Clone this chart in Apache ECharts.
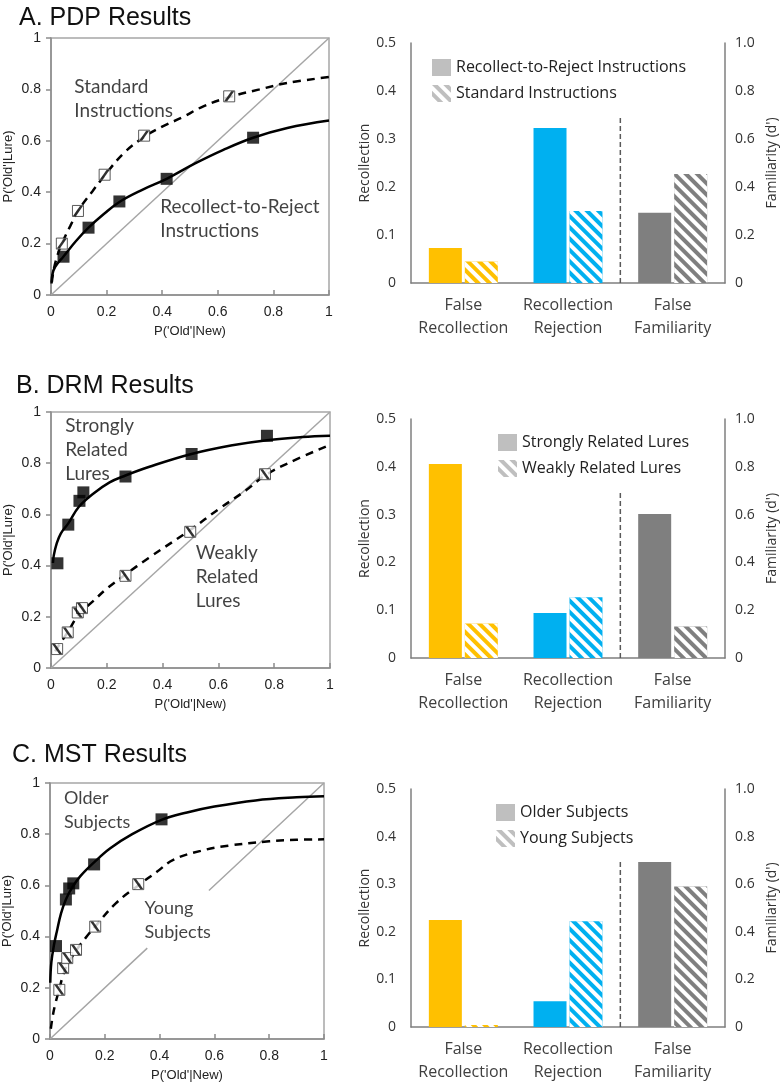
<!DOCTYPE html>
<html>
<head>
<meta charset="utf-8">
<script src="https://cdn.jsdelivr.net/npm/echarts@6/dist/echarts.min.js"></script>
<style>
  html, body { margin: 0; background: #fff; }
  #chart { width: 780px; height: 1086px; }
</style>
</head>
<body>
<div id="chart"></div>
<script>
// ---- ROC data: [P('Old'|New), P('Old'|Lure)] ----
const pdpRejectPts = [[0.045, 0.149], [0.135, 0.262], [0.246, 0.364], [0.416, 0.452], [0.727, 0.612]];
const pdpRejectFit = [[0.002, 0.045], [0.005, 0.08], [0.015, 0.11], [0.045, 0.15], [0.09, 0.21], [0.135, 0.262],
  [0.19, 0.315], [0.246, 0.362], [0.33, 0.41], [0.416, 0.452], [0.52, 0.513], [0.62, 0.565], [0.727, 0.612],
  [0.85, 0.65], [1, 0.679]];
const pdpStandardPts = [[0.039, 0.2], [0.097, 0.327], [0.193, 0.468], [0.335, 0.62], [0.641, 0.773]];
const pdpStandardFit = [[0.003, 0.05], [0.01, 0.1], [0.025, 0.16], [0.039, 0.2], [0.07, 0.27], [0.097, 0.327],
  [0.15, 0.405], [0.193, 0.465], [0.26, 0.55], [0.335, 0.615], [0.4, 0.655], [0.47, 0.69], [0.55, 0.735],
  [0.641, 0.77], [0.75, 0.8], [0.85, 0.825], [1, 0.848]];

const drmStrongPts = [[0.023, 0.409], [0.062, 0.56], [0.102, 0.653], [0.116, 0.686], [0.267, 0.748], [0.504, 0.836], [0.774, 0.907]];
const drmStrongFit = [[0.007, 0.41], [0.01, 0.44], [0.02, 0.485], [0.035, 0.525], [0.062, 0.565], [0.1, 0.63],
  [0.15, 0.68], [0.21, 0.725], [0.267, 0.752], [0.35, 0.785], [0.5, 0.835], [0.65, 0.87], [0.774, 0.89],
  [0.9, 0.902], [1, 0.907]];
const drmWeakPts = [[0.022, 0.074], [0.06, 0.139], [0.096, 0.217], [0.111, 0.234], [0.267, 0.36], [0.499, 0.532], [0.767, 0.757]];
const drmWeakFit = [[0.015, 0.065], [0.022, 0.078], [0.06, 0.14], [0.1, 0.21], [0.15, 0.26], [0.2, 0.31],
  [0.267, 0.365], [0.35, 0.43], [0.5, 0.54], [0.6, 0.62], [0.7, 0.695], [0.767, 0.752], [0.85, 0.8], [1, 0.872]];

const mstOlderPts = [[0.022, 0.363], [0.058, 0.545], [0.07, 0.588], [0.085, 0.608], [0.161, 0.682], [0.407, 0.858]];
const mstOlderFit = [[0.001, 0.22], [0.005, 0.3], [0.015, 0.37], [0.025, 0.42], [0.04, 0.49], [0.058, 0.545],
  [0.08, 0.59], [0.11, 0.635], [0.161, 0.69], [0.22, 0.745], [0.3, 0.8], [0.407, 0.856], [0.5, 0.885],
  [0.6, 0.908], [0.75, 0.932], [0.9, 0.944], [1, 0.948]];
const mstYoungPts = [[0.034, 0.192], [0.048, 0.277], [0.063, 0.316], [0.095, 0.348], [0.165, 0.439], [0.322, 0.605]];
const mstYoungFit = [[0.003, 0.04], [0.01, 0.09], [0.02, 0.14], [0.034, 0.195], [0.048, 0.25], [0.063, 0.29],
  [0.095, 0.345], [0.13, 0.395], [0.165, 0.44], [0.24, 0.53], [0.322, 0.6], [0.39, 0.653], [0.45, 0.7],
  [0.55, 0.735], [0.65, 0.755], [0.8, 0.772], [0.9, 0.778], [1, 0.78]];

const diagonalFull = [[0, 0], [1, 1]];
const diagonalBroken = [[0, 0], [0.355, 0.355], '-', [0.58, 0.58], [1, 1]];

// ---- bar data ----
const barCategories = ['False\nRecollection', 'Recollection\nRejection', 'False\nFamiliarity'];
const barColors = ['#FFC000', '#00B0F0', '#7F7F7F'];
// recollection (left axis) for the first two categories, familiarity d' (right axis) for the third
const pdpRecollectReject = [0.073, 0.323];
const pdpRecollectStandard = [0.045, 0.15];
const pdpFamiliarity = [0.293, 0.454];
const drmRecollectStrong = [0.406, 0.094];
const drmRecollectWeak = [0.072, 0.127];
const drmFamiliarity = [0.602, 0.132];
const mstRecollectOlder = [0.225, 0.054];
const mstRecollectYoung = [0.004, 0.222];
const mstFamiliarity = [0.693, 0.59];
const dividerLine = [[2, 0], [2, 0.35]];

const titles = ['A. PDP Results', 'B. DRM Results', 'C. MST Results'];
const rocLabels = [
  [['Standard\nInstructions', 0.084, 0.762], ['Recollect-to-Reject\nInstructions', 0.393, 0.298]],
  [['Strongly\nRelated\nLures', 0.051, 0.851], ['Weakly\nRelated\nLures', 0.519, 0.356]],
  [['Older\nSubjects', 0.051, 0.894], ['Young\nSubjects', 0.345, 0.463]]
];
const legendNames = [
  ['Recollect-to-Reject Instructions', 'Standard Instructions'],
  ['Strongly Related Lures', 'Weakly Related Lures'],
  ['Older Subjects', 'Young Subjects']
];

// ---- layout ----
const rocGrids = [
  { left: 51, top: 38, width: 278, height: 257 },
  { left: 51, top: 412, width: 279, height: 256 },
  { left: 49, top: 783, width: 275, height: 256 }
];
const barGrids = [
  { left: 411, top: 43, width: 315, height: 240 },
  { left: 411, top: 419, width: 315, height: 239 },
  { left: 411, top: 789, width: 314, height: 238 }
];
const titlePos = [[14, 1], [11, 369], [7, 738]];
const legendPos = [[427, 54], [493, 429], [491, 799]];

const panels = [
  { solidFit: pdpRejectFit, solidPts: pdpRejectPts, dashFit: pdpStandardFit, dashPts: pdpStandardPts,
    diag: diagonalFull, stripe: 'path://M0,10 L3,10 L10,0 L7,0 Z',
    rec1: pdpRecollectReject, rec2: pdpRecollectStandard, fam: pdpFamiliarity },
  { solidFit: drmStrongFit, solidPts: drmStrongPts, dashFit: drmWeakFit, dashPts: drmWeakPts,
    diag: diagonalFull, stripe: 'path://M0,0 L3,0 L10,10 L7,10 Z',
    rec1: drmRecollectStrong, rec2: drmRecollectWeak, fam: drmFamiliarity },
  { solidFit: mstOlderFit, solidPts: mstOlderPts, dashFit: mstYoungFit, dashPts: mstYoungPts,
    diag: diagonalBroken, stripe: 'path://M0,0 L3,0 L10,10 L7,10 Z',
    rec1: mstRecollectOlder, rec2: mstRecollectYoung, fam: mstFamiliarity }
];

const GRAY = '#8C8C8C';
const BAR_FONT = 'Open Sans';
const ROC_FONT = 'Liberation Sans';
const hatch = {
  symbol: 'rect', symbolSize: 1, dashArrayX: [1, 0], dashArrayY: [3.5, 3.5],
  rotation: Math.PI / 4, color: '#ffffff'
};

const grid = [], xAxis = [], yAxis = [], series = [], title = [], legend = [];

panels.forEach((p, i) => {
  // ROC panel
  const g = grid.length;
  grid.push({ ...rocGrids[i], show: true, borderColor: '#A6A6A6', borderWidth: 1.5, containLabel: false });
  const rx = xAxis.length;
  xAxis.push({
    type: 'value', gridIndex: g, min: 0, max: 1, interval: 0.2,
    name: "P('Old'|New)", nameLocation: 'middle', nameGap: 30,
    nameTextStyle: { fontFamily: ROC_FONT, fontSize: 13, color: '#222' },
    axisLine: { show: true, lineStyle: { color: GRAY, width: 1.5 } },
    axisTick: { show: true, inside: true, length: 5, lineStyle: { color: GRAY, width: 1.5 } },
    axisLabel: { fontFamily: ROC_FONT, fontSize: 14, color: '#222', margin: 10 },
    splitLine: { show: false }
  });
  const ry = yAxis.length;
  yAxis.push({
    type: 'value', gridIndex: g, min: 0, max: 1, interval: 0.2,
    name: "P('Old'|Lure)", nameLocation: 'middle', nameGap: 36, nameRotate: 90,
    nameTextStyle: { fontFamily: ROC_FONT, fontSize: 13, color: '#222' },
    axisLine: { show: true, lineStyle: { color: GRAY, width: 1.5 } },
    axisTick: { show: true, length: 5, lineStyle: { color: GRAY, width: 1.5 } },
    axisLabel: { fontFamily: ROC_FONT, fontSize: 14, color: '#222', margin: 10 },
    splitLine: { show: false }
  });
  const onRoc = { xAxisIndex: rx, yAxisIndex: ry, silent: true };
  series.push({ ...onRoc, type: 'line', data: p.diag, symbol: 'none', lineStyle: { color: '#A6A6A6', width: 1.5 }, z: 1 });
  series.push({ ...onRoc, type: 'line', data: p.solidFit, smooth: 0.4, symbol: 'none', lineStyle: { color: '#000', width: 2.5 }, z: 2 });
  series.push({ ...onRoc, type: 'line', data: p.dashFit, smooth: 0.4, symbol: 'none', lineStyle: { color: '#000', width: 2.5, type: [8, 6] }, z: 2 });
  series.push({ ...onRoc, type: 'scatter', data: p.solidPts, symbol: 'rect', symbolSize: 12, itemStyle: { color: '#000' }, z: 3 });
  series.push({ ...onRoc, type: 'scatter', data: p.dashPts, symbol: 'rect', symbolSize: 11, itemStyle: { color: '#fff', borderColor: '#333', borderWidth: 1 }, z: 4 });
  series.push({ ...onRoc, type: 'scatter', data: p.dashPts, symbol: p.stripe, symbolSize: 10, itemStyle: { color: '#000' }, z: 5 });
  series.push({
    ...onRoc, type: 'scatter', symbolSize: 0, z: 6,
    data: rocLabels[i].map(l => ({ value: [l[1], l[2]], label: { formatter: l[0] } })),
    label: {
      show: true, position: [0, 0], align: 'left', verticalAlign: 'middle',
      fontFamily: 'Lato', fontSize: i === 2 ? 18 : 19, lineHeight: 24, color: '#111'
    }
  });

  // bar panel
  const b = grid.length;
  grid.push({ ...barGrids[i], containLabel: false });
  const bx = xAxis.length;
  xAxis.push({
    type: 'category', gridIndex: b, data: barCategories,
    axisLine: { lineStyle: { color: '#7F7F7F', width: 1.5 } },
    axisTick: { show: false },
    axisLabel: { interval: 0, fontFamily: BAR_FONT, fontSize: 16, lineHeight: 23, color: '#404040', margin: 11 }
  });
  xAxis.push({ type: 'category', gridIndex: b, data: barCategories, show: false });
  xAxis.push({ type: 'value', gridIndex: b, min: 0, max: 3, show: false });
  const by = yAxis.length;
  yAxis.push({
    type: 'value', gridIndex: b, min: 0, max: 0.5, interval: 0.1,
    name: 'Recollection', nameLocation: 'middle', nameGap: 38, nameRotate: 90,
    nameTextStyle: { fontFamily: BAR_FONT, fontSize: 14, color: '#333' },
    axisLine: { show: true, lineStyle: { color: '#7F7F7F', width: 1.5 } },
    axisTick: { show: false }, splitLine: { show: false },
    axisLabel: { fontFamily: BAR_FONT, fontSize: 14, color: '#333', margin: 15 }
  });
  yAxis.push({
    type: 'value', gridIndex: b, min: 0, max: 1, interval: 0.2, position: 'right',
    name: "Familiarity (d')", nameLocation: 'middle', nameGap: 40, nameRotate: 90,
    nameTextStyle: { fontFamily: BAR_FONT, fontSize: 14, color: '#333' },
    axisLine: { show: true, lineStyle: { color: '#7F7F7F', width: 1.5 } },
    axisTick: { show: false }, splitLine: { show: false },
    axisLabel: { fontFamily: BAR_FONT, fontSize: 14, color: '#333', margin: 10, formatter: v => (v === 0 ? '0' : v.toFixed(1)) }
  });
  const names = legendNames[i];
  const recData = vals => [...vals.map((v, k) => ({ value: v, itemStyle: { color: barColors[k] } })), '-'];
  const famData = v => ['-', '-', { value: v, itemStyle: { color: barColors[2] } }];
  const barBase = { type: 'bar', barWidth: 33, barGap: '9%', silent: true };
  series.push({ ...barBase, name: names[0], xAxisIndex: bx, yAxisIndex: by, data: recData(p.rec1), itemStyle: { color: '#BFBFBF' } });
  series.push({ ...barBase, name: names[1], xAxisIndex: bx, yAxisIndex: by, data: recData(p.rec2), itemStyle: { color: '#BFBFBF', decal: hatch } });
  series.push({ ...barBase, name: names[0], xAxisIndex: bx + 1, yAxisIndex: by + 1, data: famData(p.fam[0]), itemStyle: { color: '#BFBFBF' } });
  series.push({ ...barBase, name: names[1], xAxisIndex: bx + 1, yAxisIndex: by + 1, data: famData(p.fam[1]), itemStyle: { color: '#BFBFBF', decal: hatch } });
  series.push({
    type: 'line', xAxisIndex: bx + 2, yAxisIndex: by, data: dividerLine, symbol: 'none', silent: true,
    lineStyle: { color: '#595959', width: 1.5, type: [5, 3] }
  });

  title.push({
    text: titles[i], left: titlePos[i][0], top: titlePos[i][1],
    textStyle: { fontFamily: ROC_FONT, fontSize: 25, fontWeight: 'normal', color: '#111' }
  });
  legend.push({
    data: names, left: legendPos[i][0], top: legendPos[i][1], orient: 'vertical',
    icon: 'rect', itemWidth: 19, itemHeight: 17, itemGap: 9, selectedMode: false,
    textStyle: { fontFamily: BAR_FONT, fontSize: 16, color: '#222' }
  });
});

const chart = echarts.init(document.getElementById('chart'));
chart.setOption({ animation: false, title, legend, grid, xAxis, yAxis, series });
</script>
</body>
</html>
